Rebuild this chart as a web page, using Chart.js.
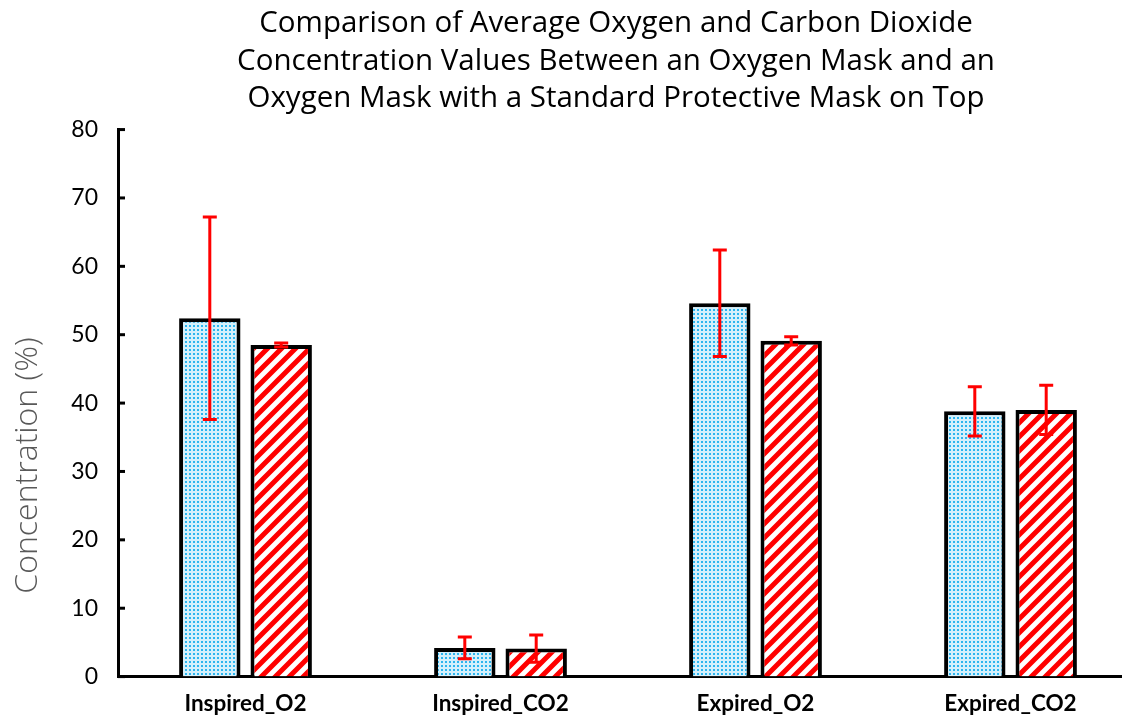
<!DOCTYPE html>
<html>
<head>
<meta charset="utf-8">
<script src="https://cdn.jsdelivr.net/npm/chart.js@4/dist/chart.umd.min.js"></script>
<style>
  html, body { margin: 0; padding: 0; background: #fff; overflow: hidden; }
  #wrap { width: 1232px; height: 731px; }
</style>
</head>
<body>
<div id="wrap"><canvas id="grafico"></canvas></div>
<script>
// dados
const categorias = ["Inspired_O2", "Inspired_CO2", "Expired_O2", "Expired_CO2"];
const mascaraOxigenio = [52.4, 4.2, 54.6, 38.8];
const erroOxigenio = [14.8, 1.6, 7.8, 3.6];
const mascaraDupla = [48.5, 4.1, 49.1, 39.0];
const erroDupla = [0.3, 2.0, 0.6, 3.6];
const ticksY = [0, 10, 20, 30, 40, 50, 60, 70, 80];

// padrão de pontos azuis
function padraoPontos() {
  const c = document.createElement("canvas");
  c.width = 4; c.height = 4;
  const ctx = c.getContext("2d");
  ctx.fillStyle = "#d4f0fc";
  ctx.fillRect(0, 0, 4, 4);
  ctx.fillStyle = "#2bb5ef";
  ctx.fillRect(1, 1, 2, 2);
  return ctx.createPattern(c, "repeat");
}

// padrão de listras vermelhas diagonais
function padraoListras() {
  const s = 14;
  const c = document.createElement("canvas");
  c.width = s; c.height = s;
  const ctx = c.getContext("2d");
  ctx.fillStyle = "#fff";
  ctx.fillRect(0, 0, s, s);
  ctx.strokeStyle = "#ff0000";
  ctx.lineWidth = 5;
  ctx.beginPath();
  ctx.moveTo(-s, 2 * s); ctx.lineTo(2 * s, -s);
  ctx.moveTo(-s, s); ctx.lineTo(s, -s);
  ctx.moveTo(0, 2 * s); ctx.lineTo(2 * s, 0);
  ctx.stroke();
  return ctx.createPattern(c, "repeat");
}

// desenha barras de erro e os ticks internos do eixo y
const barrasErro = {
  id: "barrasErro",
  afterDatasetsDraw(chart) {
    const ctx = chart.ctx;
    const y = chart.scales.y;
    const erros = [erroOxigenio, erroDupla];
    ctx.save();
    ctx.strokeStyle = "#ff0000";
    ctx.lineWidth = 3;
    chart.data.datasets.forEach((ds, i) => {
      chart.getDatasetMeta(i).data.forEach((bar, j) => {
        const v = ds.data[j];
        const e = erros[i][j];
        const yTop = y.getPixelForValue(v + e);
        const yBot = y.getPixelForValue(v - e);
        ctx.beginPath();
        ctx.moveTo(bar.x, yTop); ctx.lineTo(bar.x, yBot);
        ctx.moveTo(bar.x - 7, yTop); ctx.lineTo(bar.x + 7, yTop);
        ctx.moveTo(bar.x - 7, yBot); ctx.lineTo(bar.x + 7, yBot);
        ctx.stroke();
      });
    });
    ctx.strokeStyle = "#000";
    ctx.lineWidth = 3;
    ticksY.forEach((t) => {
      const py = y.getPixelForValue(t);
      ctx.beginPath();
      ctx.moveTo(y.right, py); ctx.lineTo(y.right + 7, py);
      ctx.stroke();
    });
    ctx.restore();
  }
};

new Chart(document.getElementById("grafico"), {
  type: "bar",
  data: {
    labels: categorias,
    datasets: [
      {
        label: "Oxygen Mask",
        data: mascaraOxigenio,
        backgroundColor: padraoPontos(),
        borderColor: "#000",
        borderWidth: 4,
        borderSkipped: "bottom",
        barPercentage: 0.86,
        categoryPercentage: 0.56,
      },
      {
        label: "Oxygen Mask + Protective Mask",
        data: mascaraDupla,
        backgroundColor: padraoListras(),
        borderColor: "#000",
        borderWidth: 4,
        borderSkipped: "bottom",
        barPercentage: 0.86,
        categoryPercentage: 0.56,
      },
    ],
  },
  options: {
    responsive: true,
    maintainAspectRatio: false,
    animation: false,
    plugins: {
      legend: { display: false },
      tooltip: { enabled: false },
      title: {
        display: true,
        text: [
          "Comparison of Average Oxygen and Carbon Dioxide",
          "Concentration Values Between an Oxygen Mask and an",
          "Oxygen Mask with a Standard Protective Mask on Top",
        ],
        color: "#000",
        font: { family: "Open Sans", size: 29.5, weight: "normal", lineHeight: 1.272 },
        padding: { top: 5, bottom: 12 },
      },
    },
    scales: {
      x: {
        grid: { display: false, drawTicks: false },
        border: { color: "#000", width: 3 },
        ticks: {
          color: "#000",
          padding: 20,
          font: { family: "Lato", size: 22.5, weight: "bold", lineHeight: 0.64 },
        },
      },
      y: {
        min: 0,
        max: 80,
        afterFit: (s) => { s.width = 118; },
        afterBuildTicks: (s) => { s.ticks = ticksY.map((v) => ({ value: v })); },
        grid: { display: false, drawTicks: false },
        border: { color: "#000", width: 3 },
        ticks: {
          color: "#000",
          padding: 20,
          font: { family: "Lato", size: 23 },
        },
        title: {
          display: true,
          text: "Concentration (%)" + "               ",
          color: "#595959",
          font: { family: "Open Sans", size: 32, weight: "300" },
          padding: { top: 9, bottom: 0 },
        },
      },
      y2: {
        position: "right",
        display: true,
        afterFit: (s) => { s.width = 94; },
        grid: { display: false, drawTicks: false },
        border: { display: false },
        ticks: { display: false },
      },
    },
  },
  plugins: [barrasErro],
});
</script>
</body>
</html>
